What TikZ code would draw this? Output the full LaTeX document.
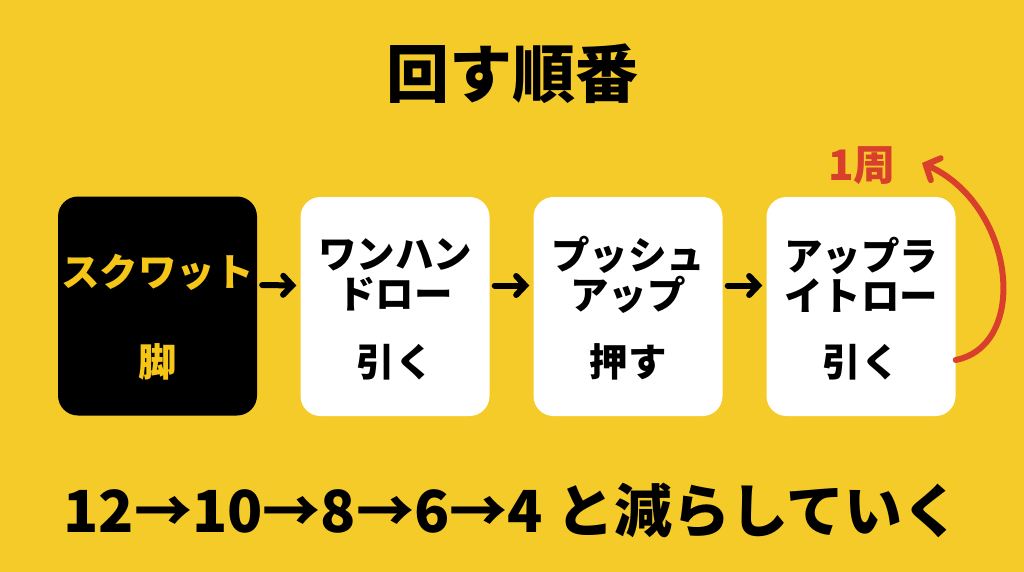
\documentclass[tikz,border=0pt]{standalone}
\usepackage{fontspec}
\setmainfont{Noto Sans CJK JP}
\usetikzlibrary{arrows.meta}
\definecolor{bgyellow}{HTML}{F5CB2A}
\definecolor{txtyellow}{HTML}{F5C518}
\definecolor{loopred}{HTML}{D9402B}
\tikzset{
    card/.style={rounded corners=20pt, minimum height=219pt, inner sep=0pt},
    label/.style={font=\bfseries\fontsize{38.5}{40}\selectfont, align=center, inner sep=0pt},
    flow/.style={line width=6pt, line cap=round, -{Straight Barb[length=9pt, width=19pt, line cap=round]}}
}
\begin{document}
\begin{tikzpicture}[x=1pt, y=-1pt]
    \fill [bgyellow] (0,0) rectangle (1024,572);
    \useasboundingbox (0,0) rectangle (1024,572);
    \node [font=\bfseries\fontsize{63}{63}\selectfont] (title) at (512,74) {回す順番};
    \node [card, fill=black, minimum width=199pt] (squat)   at (157.5,306) {};
    \node [card, fill=white, minimum width=189pt] (row)     at (395,306.5) {};
    \node [card, fill=white, minimum width=189pt] (push)    at (628,306.5) {};
    \node [card, fill=white, minimum width=189pt] (upright) at (861,306.5) {};
    \node [label, text=txtyellow] (squatname) at (157.5,272) {スクワット};
    \node [label, text=txtyellow] (squatpart) at (157.5,362) {脚};
    \node [label] (rowname)     at (395,275) {ワンハン\\ドロー};
    \node [label] (rowpart)     at (395,362) {引く};
    \node [label] (pushname)    at (628,275) {プッシュ\\アップ};
    \node [label] (pushpart)    at (628,362) {押す};
    \node [label] (uprightname) at (861,275) {アップラ\\イトロー};
    \node [label] (uprightpart) at (861,362) {引く};
    \draw [flow, shorten <=5pt, shorten >=4pt] ([yshift=21pt]squat.east) -- ([yshift=21pt]row.west);
    \draw [flow, shorten <=5pt, shorten >=4pt] ([yshift=21pt]row.east) -- ([yshift=21pt]push.west);
    \draw [flow, shorten <=5pt, shorten >=4pt] ([yshift=21pt]push.east) -- ([yshift=21pt]upright.west);
    \node [font=\bfseries\fontsize{42}{42}\selectfont, text=loopred] (lap) at (862,166) {1周};
    \coordinate (looptip) at (922,163);
    \draw [loopred, line width=6pt, line cap=round, -{Straight Barb[length=11pt, width=24pt, line cap=round]}]
        ([yshift=-53.5pt]upright.east) .. controls (1030,345) and (1015,205) .. (looptip);
    \node [anchor=west, font=\bfseries\fontsize{58}{58}\selectfont] (summary) at (60,511) {12→10→8→6→4 と減らしていく};
\end{tikzpicture}
\end{document}
